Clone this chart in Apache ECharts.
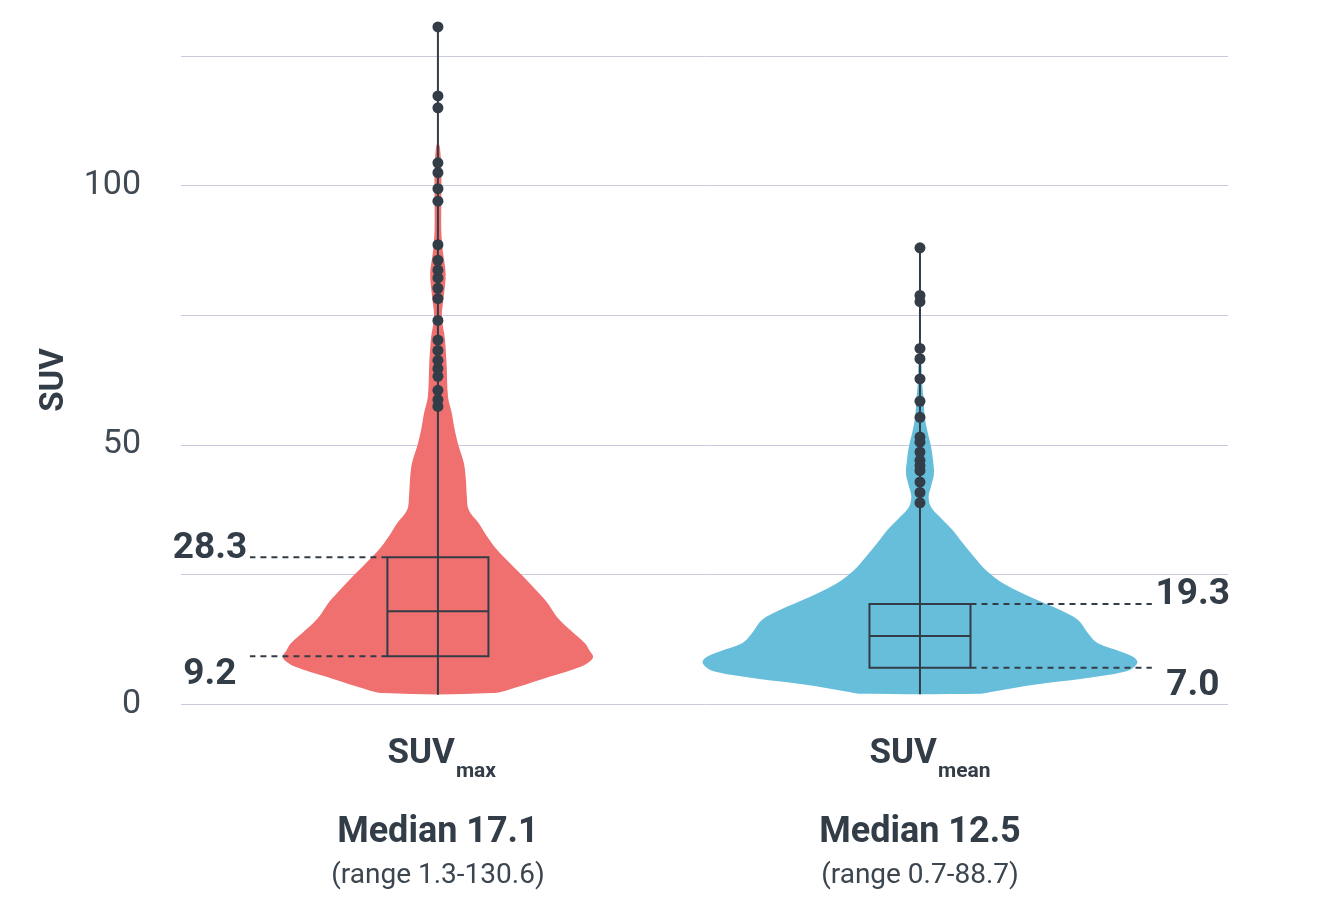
<!DOCTYPE html>
<html><head><meta charset="utf-8">
<script src="https://cdn.jsdelivr.net/npm/echarts@6/dist/echarts.min.js"></script>
<style>html,body{margin:0;padding:0;background:#fff}#c{width:1340px;height:920px}</style>
</head><body><div id="c"></div>
<script>
// ---------- data ----------
const categories = ['SUVmax', 'SUVmean'];
const categoryPositions = [0, 1];
const mainLabels = ['SUV', 'SUV'];
const subLabels = ['max', 'mean'];
const medianLabels = ['Median 17.1', 'Median 12.5'];
const rangeLabels = ['(range 1.3-130.6)', '(range 0.7-88.7)'];
const yTickLabels = [0, 50, 100];

const q1 = [9.2, 7.0];
const medianDrawn = [17.9, 13.1];
const q3 = [28.3, 19.3];
const q1Text = ['9.2', '7.0'];
const q3Text = ['28.3', '19.3'];
const whiskerLow = [1.8, 1.9];
const whiskerHigh = [130.6, 88.0];

const outliersMax = [130.6, 117.3, 115.0, 104.4, 102.5, 99.4, 97.0, 88.6, 85.6, 83.7, 82.2, 80.2, 78.2, 74.0, 70.2, 68.2, 66.3, 64.7, 63.2, 60.5, 58.7, 57.4];
const outliersMean = [88.0, 78.8, 77.6, 68.6, 66.6, 62.7, 58.4, 55.3, 51.5, 50.5, 48.6, 47.0, 46.0, 45.0, 42.8, 40.8, 38.8];

// violin outline: SUV level and half-width (percent of the spacing between the two categories)
const violinMaxLevels = [2.1, 3.3, 5.3, 7.2, 8.2, 9.1, 10.2, 11.7, 14.3, 16.8, 19.4, 21.3, 24.5, 27.1, 29.7, 32.3, 34.8, 37.4, 40.0, 43.2, 46.4, 49.7, 52.8, 56.0, 59.2, 65.6, 70.8, 74.6, 78.5, 83.0, 87.5, 91.3, 97.7, 102.9, 107.4, 108.4];
const violinMaxWidths = [11.2, 16.5, 23.3, 29.6, 31.5, 32.2, 31.5, 30.5, 27.4, 24.7, 22.8, 21.0, 17.8, 15.0, 12.3, 10.2, 8.5, 6.4, 6.0, 5.8, 5.4, 4.3, 3.5, 2.9, 2.1, 1.8, 1.4, 0.8, 1.2, 1.6, 1.0, 0.7, 0.7, 0.7, 0.4, 0.0];
const violinMeanLevels = [2.0, 2.4, 3.7, 4.9, 6.2, 7.2, 8.2, 9.2, 10.1, 11.7, 13.6, 16.2, 18.1, 20.6, 23.2, 25.8, 28.4, 31.0, 33.5, 36.1, 38.0, 40.0, 42.0, 44.4, 47.0, 49.6, 52.8, 55.4, 59.2, 62.5, 65.7, 67.0];
const violinMeanWidths = [12.7, 15.3, 23.7, 34.0, 42.4, 44.5, 45.1, 44.0, 41.7, 36.9, 34.9, 32.8, 29.2, 23.0, 17.4, 13.7, 11.2, 8.9, 6.8, 4.1, 2.3, 1.8, 2.3, 2.9, 2.7, 2.3, 1.5, 1.0, 0.7, 0.4, 0.3, 0.0];

// ---------- style ----------
const violinColors = ['#F06F6F', '#67BEDB'];
const dark = '#333D47';
const font = 'Roboto';
const violinLevels = [violinMaxLevels, violinMeanLevels];
const violinWidths = [violinMaxWidths, violinMeanWidths];
const outliers = [outliersMax, outliersMean];
const annotSide = [-1, 1];

const chart = echarts.init(document.getElementById('c'), null, {renderer: 'canvas'});

function unitPx(api) { return api.size([1, 0])[0]; }

function violinItem(params, api) {
  const i = params.dataIndex;
  const cat = api.value(0);
  const u = unitPx(api);
  const lv = violinLevels[i], wd = violinWidths[i];
  const left = [], right = [];
  for (let k = 0; k < lv.length; k++) {
    const p = api.coord([cat, lv[k]]);
    const hw = wd[k] / 100 * u;
    left.push([p[0] - hw, p[1]]);
    right.push([p[0] + hw, p[1]]);
  }
  return {
    type: 'polygon',
    shape: {points: left.concat(right.reverse()), smooth: 0.35},
    style: {fill: violinColors[i]}
  };
}

function boxItem(params, api) {
  const i = params.dataIndex;
  const cat = api.value(0);
  const u = unitPx(api);
  const bw = u * 0.1048;
  const lo = api.coord([cat, whiskerLow[i]]);
  const hi = api.coord([cat, whiskerHigh[i]]);
  const pq1 = api.coord([cat, q1[i]]);
  const pmed = api.coord([cat, medianDrawn[i]]);
  const pq3 = api.coord([cat, q3[i]]);
  const cx = lo[0];
  const ls = {stroke: dark, lineWidth: 2, fill: null};
  const side = annotSide[i];
  const dashInner = cx + side * bw;
  const dashOuter = cx + side * (side < 0 ? 0.390 : 0.481) * u;
  const labelX = cx + side * (side < 0 ? 0.473 : 0.566) * u;
  const ts = {fill: dark, font: 'bold 37px ' + font, align: 'center', verticalAlign: 'middle'};
  const ds = {stroke: dark, lineWidth: 2, lineDash: [6, 5]};
  return {
    type: 'group',
    children: [
      {type: 'line', shape: {x1: cx, y1: lo[1], x2: cx, y2: hi[1]}, style: ls},
      {type: 'rect', shape: {x: cx - bw, y: pq3[1], width: 2 * bw, height: pq1[1] - pq3[1]}, style: ls},
      {type: 'line', shape: {x1: cx - bw, y1: pmed[1], x2: cx + bw, y2: pmed[1]}, style: ls},
      {type: 'line', shape: {x1: dashInner, y1: pq3[1], x2: dashOuter, y2: pq3[1]}, style: ds},
      {type: 'line', shape: {x1: dashInner, y1: pq1[1], x2: dashOuter, y2: pq1[1]}, style: ds},
      {type: 'text', x: labelX, y: pq3[1] - 9, style: Object.assign({text: q3Text[i]}, ts)},
      {type: 'text', x: labelX, y: pq1[1] + 18, style: Object.assign({text: q1Text[i]}, ts)}
    ]
  };
}

function labelItem(params, api) {
  const i = params.dataIndex;
  const cat = api.value(0);
  const base = api.coord([cat, 0]);
  const cx = base[0], y0 = base[1];
  const junction = cx + 17;
  return {
    type: 'group',
    children: [
      {type: 'text', x: junction, y: y0 + 50, style: {text: mainLabels[i], fill: dark, font: 'bold 35px ' + font, align: 'right', verticalAlign: 'middle'}},
      {type: 'text', x: junction + 1, y: y0 + 68, style: {text: subLabels[i], fill: dark, font: 'bold 21px ' + font, align: 'left', verticalAlign: 'middle'}},
      {type: 'text', x: cx, y: y0 + 129, style: {text: medianLabels[i], fill: dark, font: 'bold 36px ' + font, align: 'center', verticalAlign: 'middle'}},
      {type: 'text', x: cx, y: y0 + 172, style: {text: rangeLabels[i], fill: '#3C4650', font: '28px ' + font, align: 'center', verticalAlign: 'middle'}}
    ]
  };
}

const catData = categoryPositions.map(p => [p]);
const scatterData = [];
outliers.forEach((arr, i) => arr.forEach(v => scatterData.push([categoryPositions[i], v])));

chart.setOption({
  animation: false,
  backgroundColor: '#fff',
  grid: {left: 181, right: 112, top: 56, bottom: 216},
  xAxis: {
    type: 'value', min: -0.533, max: 1.639,
    axisLine: {show: false}, axisTick: {show: false}, axisLabel: {show: false}, splitLine: {show: false}
  },
  yAxis: {
    type: 'value', min: 0, max: 125, interval: 25,
    name: 'SUV', nameLocation: 'middle', nameGap: 110,
    nameTextStyle: {fontFamily: font, fontWeight: 'bold', fontSize: 33, color: dark},
    axisLine: {show: false}, axisTick: {show: false},
    axisLabel: {
      margin: 40, fontFamily: font, fontSize: 34, color: '#404A54',
      formatter: v => yTickLabels.indexOf(v) >= 0 ? String(v) : ''
    },
    splitLine: {lineStyle: {color: '#CACADF', width: 1}}
  },
  series: [
    {type: 'custom', renderItem: violinItem, data: catData, z: 1, clip: false, silent: true},
    {type: 'custom', renderItem: boxItem, data: catData, z: 3, clip: false, silent: true},
    {type: 'scatter', data: scatterData, symbolSize: 11, itemStyle: {color: dark, opacity: 1}, z: 5, clip: false, silent: true},
    {type: 'custom', renderItem: labelItem, data: catData, z: 6, clip: false, silent: true}
  ]
});
</script>
</body></html>
